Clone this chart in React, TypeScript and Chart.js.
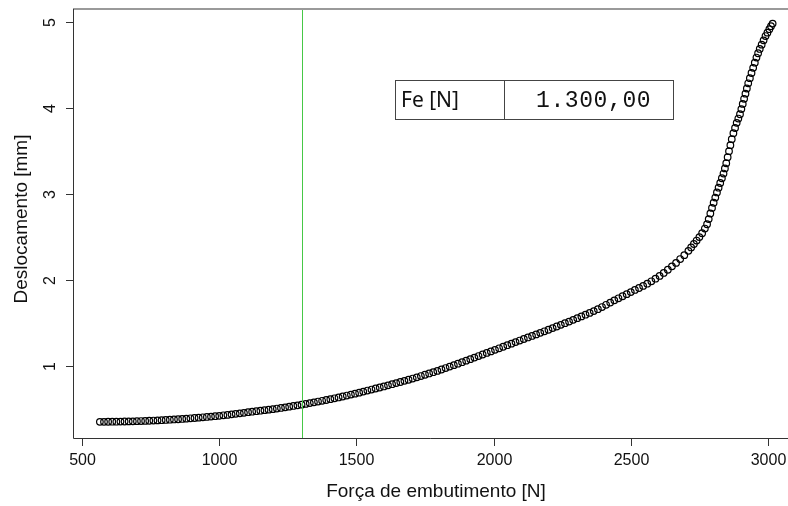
import { useEffect, useRef } from "react";
import { Chart, registerables } from "chart.js";

Chart.register(...registerables);

const forceN = [
  565, 580, 595, 610, 625, 640, 655, 670, 685, 700, 715, 730, 745, 760, 775, 790, 805, 820, 835, 850,
  865, 880, 895, 910, 925, 940, 955, 970, 985, 1000, 1015, 1030, 1045, 1060, 1075, 1090, 1105, 1120, 1135, 1150,
  1165, 1180, 1195, 1210, 1225, 1240, 1255, 1270, 1285, 1300, 1315, 1330, 1345, 1360, 1375, 1390, 1405, 1420, 1435, 1450,
  1465, 1480, 1495, 1510, 1525, 1540, 1555, 1570, 1585, 1600, 1615, 1630, 1645, 1660, 1675, 1690, 1705, 1720, 1735, 1750,
  1765, 1780, 1795, 1810, 1825, 1840, 1855, 1870, 1885, 1900, 1915, 1930, 1945, 1960, 1975, 1990, 2005, 2020, 2035, 2050,
  2065, 2080, 2095, 2110, 2125, 2140, 2155, 2170, 2185, 2200, 2215, 2230, 2245, 2260, 2275, 2290, 2305, 2320, 2335, 2350,
  2365, 2380, 2395, 2410, 2425, 2440, 2455, 2470, 2485, 2500, 2515, 2530, 2545, 2560, 2575, 2590, 2605, 2620, 2635, 2650,
  2665, 2680, 2695, 2710, 2720, 2730, 2740, 2750, 2760, 2770, 2778, 2784, 2790, 2796, 2802, 2808, 2814, 2820, 2826, 2832,
  2838, 2843, 2848, 2853, 2858, 2863, 2868, 2874, 2880, 2886, 2892, 2898, 2903, 2908, 2913, 2918, 2923, 2928, 2934, 2940,
  2946, 2952, 2958, 2964, 2970, 2977, 2984, 2991, 2998, 3005, 3011, 3017,
];

const displacementMm = [
  0.350, 0.350, 0.351, 0.352, 0.352, 0.353, 0.354, 0.355, 0.356, 0.358, 0.359, 0.361, 0.363, 0.365, 0.367, 0.369, 0.372, 0.375, 0.378, 0.380,
  0.384, 0.387, 0.391, 0.395, 0.399, 0.403, 0.407, 0.411, 0.416, 0.420, 0.426, 0.431, 0.437, 0.443, 0.449, 0.455, 0.462, 0.468, 0.474, 0.480,
  0.486, 0.492, 0.498, 0.505, 0.512, 0.519, 0.527, 0.535, 0.542, 0.550, 0.559, 0.568, 0.577, 0.586, 0.595, 0.604, 0.614, 0.624, 0.634, 0.645,
  0.656, 0.667, 0.678, 0.690, 0.702, 0.714, 0.726, 0.738, 0.750, 0.762, 0.775, 0.788, 0.801, 0.814, 0.827, 0.840, 0.854, 0.868, 0.883, 0.898,
  0.913, 0.928, 0.943, 0.959, 0.976, 0.993, 1.010, 1.027, 1.044, 1.062, 1.080, 1.098, 1.116, 1.134, 1.152, 1.170, 1.188, 1.206, 1.224, 1.242,
  1.260, 1.278, 1.296, 1.314, 1.332, 1.350, 1.368, 1.386, 1.404, 1.422, 1.441, 1.460, 1.479, 1.498, 1.517, 1.537, 1.557, 1.577, 1.597, 1.618,
  1.639, 1.661, 1.686, 1.712, 1.738, 1.764, 1.788, 1.812, 1.836, 1.860, 1.885, 1.908, 1.932, 1.958, 1.986, 2.016, 2.048, 2.083, 2.120, 2.160,
  2.200, 2.245, 2.290, 2.340, 2.380, 2.420, 2.460, 2.500, 2.545, 2.600, 2.650, 2.710, 2.775, 2.840, 2.900, 2.960, 3.020, 3.075, 3.130, 3.185,
  3.240, 3.300, 3.360, 3.430, 3.500, 3.570, 3.640, 3.710, 3.770, 3.830, 3.880, 3.930, 3.990, 4.050, 4.110, 4.170, 4.230, 4.290, 4.350, 4.410,
  4.470, 4.530, 4.590, 4.640, 4.690, 4.740, 4.790, 4.840, 4.880, 4.920, 4.955, 4.985,
];

const xTicks = [500, 1000, 1500, 2000, 2500, 3000];
const yTicks = [1, 2, 3, 4, 5];
const feValue = 1300;
const feLabel = "Fe [N]";
const feText = "1.300,00";
const xTitle = "Força de embutimento [N]";
const yTitle = "Deslocamento [mm]";

export default function App() {
  const ref = useRef<HTMLCanvasElement>(null);

  useEffect(() => {
    const canvas = ref.current!;
    const points = forceN.map((x, i) => ({ x, y: displacementMm[i] }));

    const rPlugin = {
      id: "rstyle",
      afterDatasetsDraw(chart: any) {
        const { ctx, chartArea: a, scales } = chart;
        const x = scales.x;
        const vx = Math.round(x.getPixelForValue(feValue)) + 0.5;
        ctx.save();
        ctx.strokeStyle = "rgb(70,200,70)";
        ctx.lineWidth = 1;
        ctx.beginPath();
        ctx.moveTo(vx, a.top);
        ctx.lineTo(vx, a.bottom);
        ctx.stroke();
        ctx.restore();
      },
      afterDraw(chart: any) {
        const { ctx, chartArea: a, scales } = chart;
        const x = scales.x;
        const y = scales.y;
        ctx.save();
        // top gray line
        ctx.strokeStyle = "#9a9a9a";
        ctx.lineWidth = 2;
        ctx.beginPath();
        ctx.moveTo(a.left, a.top);
        ctx.lineTo(a.right, a.top);
        ctx.stroke();
        // axes
        ctx.strokeStyle = "#333";
        ctx.lineWidth = 1;
        ctx.beginPath();
        ctx.moveTo(a.left + 0.5, a.top);
        ctx.lineTo(a.left + 0.5, a.bottom + 0.5);
        ctx.lineTo(a.right, a.bottom + 0.5);
        ctx.stroke();
        // x ticks
        ctx.fillStyle = "#111";
        ctx.font = "16px 'Liberation Sans', Arial, sans-serif";
        ctx.textAlign = "center";
        ctx.textBaseline = "middle";
        for (const t of xTicks) {
          const px = Math.round(x.getPixelForValue(t)) + 0.5;
          ctx.beginPath();
          ctx.moveTo(px, a.bottom);
          ctx.lineTo(px, a.bottom + 8);
          ctx.stroke();
          ctx.fillText(String(t), px, 461);
        }
        // y ticks
        for (const t of yTicks) {
          const py = Math.round(y.getPixelForValue(t)) + 0.5;
          ctx.beginPath();
          ctx.moveTo(a.left, py);
          ctx.lineTo(a.left - 7, py);
          ctx.stroke();
          ctx.save();
          ctx.translate(51, py);
          ctx.rotate(-Math.PI / 2);
          ctx.fillText(String(t), 0, 0);
          ctx.restore();
        }
        // titles
        ctx.font = "19px 'Liberation Sans', Arial, sans-serif";
        ctx.fillText(xTitle, 436, 492);
        ctx.save();
        ctx.translate(22, 219);
        ctx.rotate(-Math.PI / 2);
        ctx.fillText(yTitle, 0, 0);
        ctx.restore();
        // Fe table
        ctx.strokeStyle = "#444";
        ctx.lineWidth = 1;
        ctx.fillStyle = "#fff";
        ctx.fillRect(395, 80, 278, 39);
        ctx.strokeRect(395.5, 80.5, 278, 39);
        ctx.beginPath();
        ctx.moveTo(504.5, 80.5);
        ctx.lineTo(504.5, 119.5);
        ctx.stroke();
        ctx.fillStyle = "#111";
        ctx.textAlign = "left";
        ctx.font = "21px 'Noto Sans', 'Open Sans', sans-serif";
        ctx.fillText(feLabel, 401, 101);
        ctx.font = "23px 'Liberation Mono', 'DejaVu Sans Mono', monospace";
        (ctx as any).letterSpacing = "0.6px";
        ctx.fillText(feText, 536, 101);
        (ctx as any).letterSpacing = "0px";
        ctx.restore();
      },
    };

    const chart = new Chart(canvas, {
      type: "scatter",
      data: {
        datasets: [
          {
            data: points,
            pointRadius: 3.3,
            pointHoverRadius: 3.3,
            pointBorderWidth: 1.2,
            borderColor: "#000",
            backgroundColor: "rgba(0,0,0,0)",
          },
        ],
      },
      options: {
        animation: false,
        responsive: false,
        devicePixelRatio: 1,
        events: [],
        layout: { autoPadding: false, padding: { left: 73, top: 9, right: 0, bottom: 68 } },
        plugins: { legend: { display: false }, tooltip: { enabled: false } },
        scales: {
          x: { type: "linear", min: 467, max: 3073, display: false },
          y: { type: "linear", min: 0.162, max: 5.155, display: false },
        },
      },
      plugins: [rPlugin],
    });
    return () => chart.destroy();
  }, []);

  return (
    <div style={{ position: "fixed", left: 0, top: 0, width: 788, height: 506, background: "#fff" }}>
      <canvas ref={ref} width={788} height={506} style={{ display: "block", width: 788, height: 506 }} />
    </div>
  );
}
